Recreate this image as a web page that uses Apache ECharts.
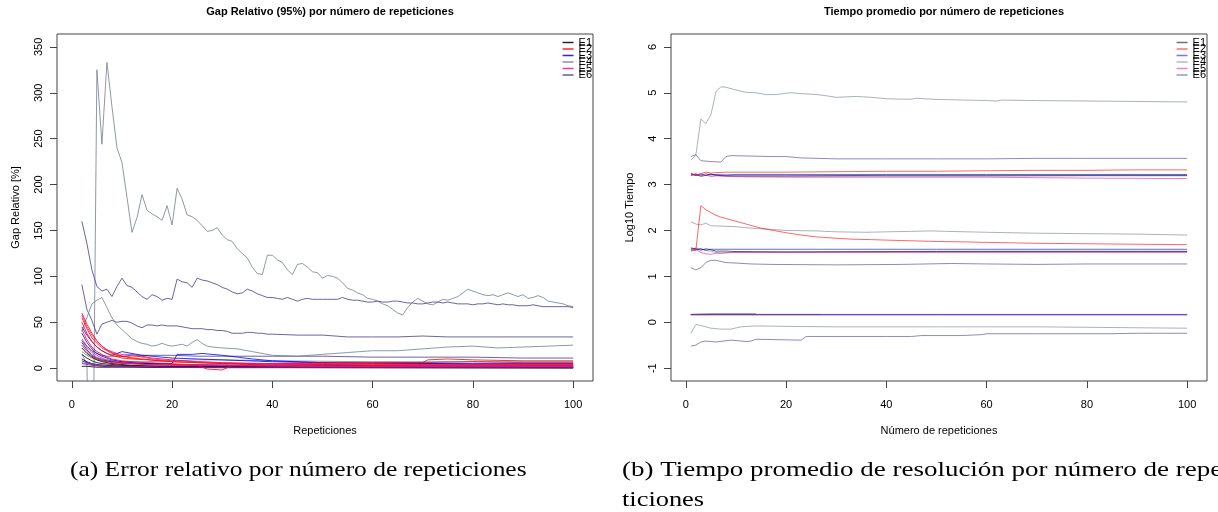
<!DOCTYPE html>
<html><head><meta charset="utf-8">
<script src="https://cdn.jsdelivr.net/npm/echarts@6/dist/echarts.min.js"></script>
<style>html,body{margin:0;padding:0;background:#fff}#c{width:1218px;height:512px}</style>
</head><body><div id="c"></div>
<script>
// ---------- text ----------
const titleLeft = 'Gap Relativo (95%) por número de repeticiones';
const titleRight = 'Tiempo promedio por número de repeticiones';
const xNameLeft = 'Repeticiones';
const xNameRight = 'Número de repeticiones';
const yNameLeft = 'Gap Relativo [%]';
const yNameRight = 'Log10 Tiempo';
const captionA = '(a) Error relativo por número de repeticiones';
const captionB1 = '(b) Tiempo promedio de resolución por número de repe';
const captionB2 = 'ticiones';
const groups = ['E1', 'E2', 'E3', 'E4', 'E5', 'E6'];
const xTicks = [0, 20, 40, 60, 80, 100];
const yTicksLeft = [0, 50, 100, 150, 200, 250, 300, 350];
const yTicksRight = [-1, 0, 1, 2, 3, 4, 5, 6];

// ---------- left panel: Gap relativo (dense lines start at x = 2) ----------
const gapE4Big = [15,5,-250,325,244,333,285,240,224,186,148,164,189,172,168,165,161,177,156,196,184,167,165,161,155,149,150,153,145,140,138,130,125,120,110,103,102,123,123,118,115,107,102,113,114,110,105,104,98,101,100,98,93,87,85,82,80,76,75,73,70,68,64,60,58,66,72,76,73,70,69,72,75,74,76,78,82,86,84,82,80,79,80,78,80,82,80,78,80,76,77,79,77,73,72,71,70,68,67];
const gapE6Big = [160,136,107,89,84,86,78,89,98,90,88,83,78,75,80,78,74,76,75,97,94,93,88,98,96,95,93,91,88,86,83,81,82,86,84,81,79,77,77,76,75,77,75,73,75,76,75,75,75,75,75,75,77,75,74,74,73,72,72,73,72,72,73,73,72,71,71,70,70,71,72,72,71,72,71,70,70,70,69,70,70,71,70,69,70,69,69,68,68,68,69,68,67,67,67,67,67,67,66];
const gapE6MidHead = [91,64,52,37,48,50,52,50,51,51,49,46,44,47,47,46,47,46,46,46,45,44,43,43,43,42,42,41,41,40,38,38,38,39,39,38,38,37,37];
const gapE6MidTail = [[45,36],[50,36],[55,34],[60,34],[65,34],[70,35],[75,34],[80,34],[85,34],[90,34],[95,34],[100,34]];
const gapE6Low = [[2,30],[3,24],[4,19],[5,16],[6,14],[7,13],[8,13],[10,13],[12,14],[15,14],[20,14],[25,13],[30,13],[35,13],[40,13],[50,13],[60,12],[70,12],[80,12],[90,11],[100,11]];
const gapE6Min = [[2,5],[3,4],[4,3],[6,2],[10,2],[30,1],[100,1]];
const gapE4Mid = [[2,40],[3,55],[4,70],[5,74],[6,77],[7,66],[8,55],[9,47],[10,42],[11,37],[12,32],[13,29],[14,27],[15,26],[16,24],[17,25],[18,27],[19,25],[20,24],[21,25],[22,26],[23,24],[24,28],[25,31],[26,27],[27,24],[28,23],[30,22],[33,21],[36,18],[40,14],[45,13],[50,15],[55,17],[60,19],[65,19],[70,21],[75,23],[80,24],[85,22],[90,23],[95,24],[100,25]];
const gapE4Low = [[2,18],[3,14],[4,11],[5,9],[6,8],[8,7],[10,6],[15,5],[20,4],[30,4],[40,3],[60,3],[100,3]];
const gapE4Low2 = [[2,30],[3,22],[4,16],[5,12],[6,10],[8,8],[10,7],[15,7],[20,8],[25,9],[30,9],[40,8],[60,7],[80,7],[100,7]];
const gapE2a = [[2,60],[3,48],[4,38],[5,30],[6,24],[7,20],[8,17],[9,15],[10,13],[12,11],[14,10],[16,9],[18,8],[20,7],[25,6],[30,5],[40,4],[50,4],[60,3],[80,3],[100,3]];
const gapE2b = [[2,55],[3,43],[4,33],[5,27],[6,22],[7,19],[8,16],[9,14],[10,13],[12,12],[14,13],[16,11],[18,10],[20,9],[25,7],[30,6],[35,5],[40,5],[50,4],[60,4],[70,4],[80,4],[90,4],[100,4]];
const gapE2c = [[2,50],[3,38],[4,29],[5,23],[6,19],[7,16],[8,14],[10,11],[12,10],[15,9],[20,7],[25,6],[30,5],[40,5],[50,5],[60,6],[70,6],[71,9],[75,10],[80,9],[90,8],[100,8]];
const gapE2d = [[2,42],[3,31],[4,23],[5,18],[6,15],[7,12],[8,10],[10,8],[12,7],[15,6],[20,5],[25,3],[27,-1],[30,-2],[32,3],[40,5],[50,6],[60,6],[70,6],[80,7],[90,6],[100,6]];
const gapE2e = [[2,25],[3,18],[4,13],[5,10],[6,8],[8,6],[10,5],[15,4],[20,3],[30,3],[50,2],[70,2],[100,2]];
const gapE5a = [[2,58],[3,45],[4,36],[5,29],[6,24],[7,20],[8,18],[9,16],[10,15],[12,15],[13,14],[14,12],[16,10],[18,9],[20,8],[25,7],[30,6],[40,5],[50,5],[60,5],[70,4],[80,4],[90,4],[100,4]];
const gapE5b = [[2,32],[3,24],[4,18],[5,14],[6,11],[7,9],[8,8],[10,6],[12,5],[15,4],[20,4],[30,3],[40,3],[60,2],[80,2],[100,2]];
const gapE5c = [[2,6],[3,5],[4,4],[5,3],[8,2],[12,2],[20,1],[40,1],[100,1]];
const gapE3a = [[2,45],[3,36],[4,29],[5,23],[6,19],[7,16],[8,14],[9,16],[10,18],[11,17],[12,16],[14,14],[16,13],[18,12],[20,11],[25,10],[30,9],[35,8],[40,7],[50,6],[60,5],[70,5],[80,5],[90,5],[100,5]];
const gapE3b = [[2,28],[3,20],[4,14],[5,11],[6,9],[7,8],[8,7],[10,6],[12,5],[15,5],[18,5],[20,5],[21,15],[24,15],[26,16],[28,15],[30,14],[33,12],[36,10],[40,8],[45,7],[50,6],[60,5],[70,5],[80,4],[90,4],[100,4]];
const gapE3c = [[2,38],[3,28],[4,21],[5,16],[6,13],[7,11],[8,9],[10,7],[12,6],[15,5],[20,4],[30,3],[50,3],[70,2],[100,2]];
const gapE3d = [[2,8],[3,6],[4,4],[5,3],[7,2],[10,2],[20,1],[50,1],[100,1]];
const gapE1a = [[2,15],[3,11],[4,8],[5,6],[6,5],[8,4],[10,3],[15,2],[25,2],[50,1],[100,1]];
const gapE1b = [[2,22],[3,16],[4,12],[5,9],[6,7],[7,6],[8,5],[10,4],[12,3],[20,2],[40,1],[100,1]];
const gapE1c = [[2,2],[3,2],[5,1],[10,1],[30,0.5],[100,0.5]];
const gapE1d = [[2,10],[3,7],[4,5],[5,4],[7,3],[10,2],[20,1],[100,0]];

// ---------- right panel: log10 tiempo ----------
const timeE4Top = [[1,3.53],[2,3.64],[3,4.43],[4,4.33],[5,4.52],[6,5.02],[7,5.13],[8,5.12],[9,5.09],[10,5.06],[12,5.01],[14,5.0],[16,4.96],[18,4.96],[20,4.99],[21,5.0],[23,4.98],[25,4.97],[27,4.95],[30,4.9],[32,4.91],[34,4.92],[37,4.9],[40,4.87],[43,4.86],[45,4.86],[46,4.88],[49,4.86],[52,4.85],[56,4.84],[60,4.83],[62,4.82],[63,4.84],[70,4.83],[80,4.82],[90,4.81],[100,4.8]];
const timeE6Hi = [[1,3.61],[2,3.65],[3,3.52],[5,3.5],[7,3.49],[8,3.61],[9,3.63],[13,3.62],[17,3.61],[20,3.61],[23,3.58],[30,3.56],[40,3.56],[50,3.56],[60,3.56],[70,3.57],[80,3.57],[90,3.57],[100,3.57]];
const timeE2Hi = [[1,3.22],[2,3.2],[3,3.24],[4,3.27],[5,3.25],[6,3.26],[8,3.27],[10,3.27],[20,3.27],[30,3.28],[40,3.29],[50,3.29],[60,3.3],[70,3.31],[80,3.31],[90,3.32],[100,3.32]];
const timeE3Hi = [[1,3.24],[2,3.2],[3,3.23],[4,3.2],[6,3.22],[8,3.21],[10,3.22],[20,3.22],[40,3.22],[60,3.22],[80,3.22],[100,3.22]];
const timeE1Hi = [[1,3.2],[2,3.22],[3,3.18],[4,3.2],[5,3.23],[6,3.2],[8,3.19],[10,3.19],[20,3.19],[40,3.2],[60,3.2],[100,3.2]];
const timeE4Hi = [[1,3.25],[2,3.2],[3,3.21],[4,3.24],[6,3.2],[10,3.18],[20,3.18],[40,3.18],[60,3.18],[80,3.19],[100,3.19]];
const timeE5Hi = [[1,3.21],[2,3.24],[3,3.19],[4,3.21],[5,3.17],[6,3.19],[8,3.18],[10,3.17],[20,3.16],[40,3.16],[60,3.16],[80,3.14],[100,3.13]];
const timeE2Spike = [[1,1.57],[2,1.57],[3,2.54],[4,2.45],[5,2.39],[6,2.33],[7,2.29],[8,2.26],[9,2.23],[10,2.2],[11,2.17],[12,2.14],[13,2.11],[14,2.08],[15,2.05],[17,2.01],[20,1.95],[23,1.9],[26,1.86],[30,1.83],[33,1.81],[37,1.8],[43,1.78],[50,1.76],[56,1.75],[60,1.74],[70,1.72],[80,1.71],[90,1.7],[100,1.69]];
const timeE4Two = [[1,2.19],[2,2.14],[3,2.12],[4,2.16],[5,2.1],[6,2.1],[8,2.09],[10,2.08],[13,2.05],[16,2.03],[20,2.0],[26,1.99],[30,1.97],[36,1.96],[40,1.97],[45,1.98],[49,1.99],[52,1.98],[56,1.97],[60,1.96],[70,1.94],[80,1.93],[90,1.92],[100,1.9]];
const timeE3Mid = [[1,1.6],[2,1.58],[3,1.6],[4,1.57],[5,1.59],[8,1.59],[10,1.59],[20,1.59],[50,1.59],[100,1.59]];
const timeE1Mid = [[1,1.62],[2,1.6],[3,1.57],[4,1.6],[5,1.58],[6,1.55],[8,1.55],[10,1.54],[20,1.53],[50,1.54],[100,1.54]];
const timeE5Mid = [[1,1.55],[2,1.58],[3,1.52],[4,1.49],[5,1.48],[6,1.5],[8,1.51],[10,1.52],[20,1.52],[50,1.52],[100,1.52]];
const timeE4Mid = [[1,1.58],[2,1.62],[3,1.6],[4,1.56],[5,1.55],[6,1.52],[7,1.51],[10,1.53],[30,1.54],[60,1.55],[100,1.55]];
const timeE6Mid = [[1,1.19],[2,1.14],[3,1.19],[4,1.3],[5,1.35],[6,1.35],[8,1.3],[10,1.29],[13,1.27],[17,1.26],[30,1.25],[43,1.26],[53,1.28],[60,1.27],[70,1.26],[80,1.27],[90,1.27],[100,1.27]];
const timeE3Low = [[1,0.16],[50,0.16],[100,0.16]];
const timeE6Low = [[1,0.17],[5,0.17],[20,0.17],[50,0.17],[100,0.17]];
const timeE5Low = [[1,0.17],[5,0.17],[20,0.17],[50,0.17],[100,0.17]];
const timeE1Low = [[1,0.17],[5,0.18],[10,0.18],[14,0.18]];
const timeE2Low = [[1,0.17],[10,0.17],[27,0.17]];
const timeE4Neg = [[1,-0.24],[2,-0.05],[3,-0.07],[5,-0.13],[7,-0.15],[9,-0.15],[11,-0.1],[14,-0.08],[20,-0.09],[30,-0.1],[50,-0.1],[70,-0.1],[90,-0.12],[100,-0.13]];
const timeE6Neg = [[1,-0.52],[2,-0.5],[3,-0.43],[4,-0.41],[6,-0.43],[9,-0.39],[12,-0.42],[13,-0.41],[14,-0.37],[23,-0.39],[24,-0.31],[30,-0.31],[40,-0.31],[45,-0.31],[47,-0.29],[55,-0.29],[57,-0.28],[59,-0.27],[60,-0.25],[70,-0.25],[80,-0.25],[85,-0.25],[90,-0.24],[100,-0.24]];

// ---------- build ----------
const FONT = '"Liberation Sans", Arial, Helvetica, sans-serif';
const SERIF = '22px "Liberation Serif", serif';
const groupColor = {E1:'#000000', E2:'#ff0000', E3:'#0000ff', E4:'#708090', E5:'#e0208f', E6:'#483d8b'};
const seq = (start, ys) => ys.map((y, i) => [start + i, y]);

const leftLines = [
  ['E4', seq(2, gapE4Big)], ['E6', seq(2, gapE6Big)], ['E6', seq(2, gapE6MidHead).concat(gapE6MidTail)],
  ['E6', gapE6Low], ['E6', gapE6Min], ['E4', gapE4Mid], ['E4', gapE4Low], ['E4', gapE4Low2],
  ['E1', gapE1a], ['E1', gapE1b], ['E1', gapE1c], ['E1', gapE1d],
  ['E3', gapE3a], ['E3', gapE3b], ['E3', gapE3c], ['E3', gapE3d],
  ['E2', gapE2a], ['E2', gapE2b], ['E2', gapE2c], ['E2', gapE2d], ['E2', gapE2e],
  ['E5', gapE5a], ['E5', gapE5b], ['E5', gapE5c]
];
const rightLines = [
  ['E4', timeE4Top], ['E6', timeE6Hi], ['E4', timeE4Hi], ['E1', timeE1Hi], ['E3', timeE3Hi], ['E2', timeE2Hi], ['E5', timeE5Hi],
  ['E4', timeE4Two], ['E4', timeE4Mid], ['E1', timeE1Mid], ['E3', timeE3Mid], ['E5', timeE5Mid], ['E2', timeE2Spike],
  ['E6', timeE6Mid], ['E3', timeE3Low], ['E1', timeE1Low], ['E2', timeE2Low], ['E5', timeE5Low], ['E6', timeE6Low],
  ['E4', timeE4Neg], ['E6', timeE6Neg]
];

function mkSeries(lines, idx, opacity) {
  return lines.map(([g, d]) => ({
    type: 'line', name: g, xAxisIndex: idx, yAxisIndex: idx, data: d,
    showSymbol: false, symbol: 'none', silent: true, clip: true, animation: false,
    lineStyle: {width: 1, color: groupColor[g], opacity: opacity},
    itemStyle: {color: groupColor[g]}, emphasis: {disabled: true}
  }));
}

const axText = {fontSize: 11, color: '#000', fontFamily: FONT};
function xAx(i, name) {
  return {type: 'value', gridIndex: i, min: -2.96, max: 103.96, name: name, nameLocation: 'middle', nameGap: 44,
    nameTextStyle: axText, axisLine: {show: false, onZero: false}, splitLine: {show: false},
    axisTick: {show: true, inside: false, length: 7, customValues: xTicks, lineStyle: {color: '#444'}},
    axisLabel: Object.assign({customValues: xTicks, margin: 18}, axText)};
}
function yAx(i, name, mn, mx, ticks) {
  return {type: 'value', gridIndex: i, min: mn, max: mx, name: name, nameLocation: 'middle', nameGap: 36,
    nameTextStyle: axText, axisLine: {show: false, onZero: false}, splitLine: {show: false},
    axisTick: {show: true, inside: false, length: 7, customValues: ticks, lineStyle: {color: '#444'}},
    axisLabel: Object.assign({customValues: ticks, margin: 13, rotate: 90}, axText)};
}
function mkLegend(right, opacity) {
  return {orient: 'vertical', right: right, top: 37, padding: 0, itemGap: -4.5, itemWidth: 11, itemHeight: 1.5,
    icon: 'rect', selectedMode: false,
    textStyle: {fontSize: 11, color: '#000', fontFamily: FONT},
    data: groups.map(g => ({name: g, icon: 'rect', itemStyle: {color: groupColor[g], opacity: opacity}}))};
}

const chart = echarts.init(document.getElementById('c'), null, {renderer: 'canvas'});
chart.setOption({
  animation: false,
  backgroundColor: '#fff',
  title: [
    {text: titleLeft, left: 325, top: 1, textAlign: 'center', textStyle: {fontSize: 11, fontWeight: 'bold', color: '#000', fontFamily: FONT}},
    {text: titleRight, left: 939, top: 1, textAlign: 'center', textStyle: {fontSize: 11, fontWeight: 'bold', color: '#000', fontFamily: FONT}}
  ],
  legend: [mkLegend(626, 0.85), mkLegend(12, 0.55)],
  grid: [
    {left: 57, top: 34, width: 536, height: 347, show: true, borderColor: '#444', borderWidth: 1, backgroundColor: 'transparent'},
    {left: 671, top: 34, width: 536, height: 347, show: true, borderColor: '#444', borderWidth: 1, backgroundColor: 'transparent'}
  ],
  xAxis: [xAx(0, xNameLeft), xAx(1, xNameRight)],
  yAxis: [yAx(0, yNameLeft, -14, 364, yTicksLeft), yAx(1, yNameRight, -1.28, 6.28, yTicksRight)],
  series: mkSeries(leftLines, 0, 0.8).concat(mkSeries(rightLines, 1, 0.6)),
  graphic: [
    {type: 'text', left: 70, top: 459, scaleX: 1.157, style: {text: captionA, font: SERIF, fill: '#000'}},
    {type: 'text', left: 622, top: 459, scaleX: 1.227, style: {text: captionB1, font: SERIF, fill: '#000'}},
    {type: 'text', left: 622, top: 489, scaleX: 1.2, style: {text: captionB2, font: SERIF, fill: '#000'}}
  ]
});
</script></body></html>
